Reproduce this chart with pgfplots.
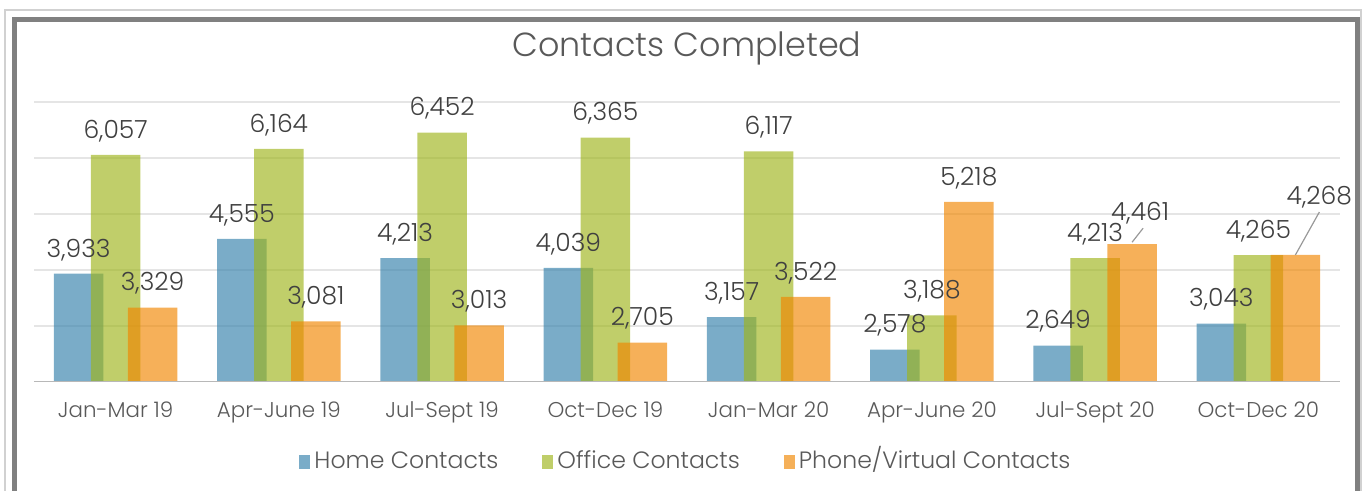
\documentclass[border=0pt]{standalone}
\usepackage{fontspec}
\setmainfont{Poppins}[UprightFont=* Light]
\usepackage{pgfplots}
\usepackage{pgfplotstable}
\pgfplotsset{compat=1.18}

\definecolor{homec}{RGB}{51,128,171}
\definecolor{officec}{RGB}{158,180,26}
\definecolor{phonec}{RGB}{241,134,0}
\definecolor{txt}{RGB}{89,89,89}
\definecolor{lbl}{RGB}{64,64,64}

% x = quarter index, dx/dy = label offset in pt (dx includes the bar shift)
\pgfplotstableread{
x y dx dy
0 3933 -18.5 0
1 4555 -18.5 0
2 4213 -18.5 0
3 4039 -18.5 0
4 3157 -18.5 0
5 2578 -18.5 0
6 2649 -18.5 0
7 3043 -18.5 0
}\home
\pgfplotstableread{
x y dx dy
0 6057 0 0
1 6164 0 0
2 6452 0 0
3 6365 0 0
4 6117 0 0
5 3188 0 0
6 4213 0 0
7 4265 0 0
}\office
\pgfplotstableread{
x y dx dy
0 3329 18.5 0
1 3081 18.5 0
2 3013 18.5 0
3 2705 18.5 0
4 3522 18.5 0
5 5218 18.5 0
6 4461 22.5 3.5
7 4268 30.5 17
}\phone

\begin{document}
\begin{tikzpicture}
\path[use as bounding box] (0,0) rectangle (681.5pt,245.5pt);
% outer frame
\draw[black!18, line width=1pt] (2.5pt,-10pt) rectangle (680.5pt,240.5pt);
\draw[black!50, line width=2.5pt] (7.25pt,-10pt) rectangle (678.75pt,235.75pt);
\begin{axis}[
    at={(17pt,54.5pt)}, anchor=south west,
    scale only axis, width=653pt, height=140pt,
    xmin=-0.5, xmax=7.5, ymin=2000, ymax=7000,
    enlarge x limits=false,
    axis line style={draw=none},
    xtick={0,...,7},
    xticklabels={Jan-Mar 19,Apr-June 19,Jul-Sept 19,Oct-Dec 19,Jan-Mar 20,Apr-June 20,Jul-Sept 20,Oct-Dec 20},
    xticklabel style={font=\fontsize{10.7}{12}\selectfont, text=txt, yshift=-6.5pt},
    xtick style={draw=none},
    ytick={3000,4000,5000,6000,7000},
    yticklabels={},
    ytick style={draw=none},
    ymajorgrids,
    grid style={black!10, line width=0.8pt},
    title={Contacts Completed},
    title style={at={(0.5,1.19)}, anchor=center, yshift=-6pt, font=\fontsize{16.7}{19}\selectfont, text=txt},
    /pgf/number format/assume math mode=true,
    /pgf/number format/1000 sep={,},
    nodes near coords,
    every node near coord/.append style={font=\fontsize{12.5}{14}\selectfont, text=lbl, text opacity=1, anchor=south, yshift=3pt},
    visualization depends on={\thisrow{dx} \as \dx},
    visualization depends on={\thisrow{dy} \as \dy},
    legend columns=3,
    legend style={at={(0.5,-0.292)}, anchor=center, draw=none, font=\fontsize{11.8}{14}\selectfont, text=txt,
        nodes={text depth=0.25em, text height=0.72em},
        /tikz/every even column/.append style={column sep=20pt}},
    legend image code/.code={\fill[#1, fill opacity=0.65] (0pt,-2.5pt) rectangle (5.5pt,4.5pt);},
]
\addplot[ybar, bar width=24.75pt, bar shift=-18.5pt, fill=homec, draw=none, fill opacity=0.65,
    every node near coord/.append style={xshift=\dx pt, yshift=\dy pt}] table[x=x,y=y] {\home};
\addplot[ybar, bar width=24.75pt, bar shift=0pt, fill=officec, draw=none, fill opacity=0.65,
    every node near coord/.append style={xshift=\dx pt, yshift=\dy pt}] table[x=x,y=y] {\office};
\addplot[ybar, bar width=24.75pt, bar shift=18.5pt, fill=phonec, draw=none, fill opacity=0.65,
    every node near coord/.append style={xshift=\dx pt, yshift=\dy pt}] table[x=x,y=y] {\phone};
\legend{Home Contacts,Office Contacts,Phone/Virtual Contacts}
% leader lines for the two moved labels
\draw[black!40, line width=0.6pt] ([xshift=18.5pt,yshift=1pt]axis cs:6,4461) -- ([xshift=24pt,yshift=8pt]axis cs:6,4461);
\draw[black!40, line width=0.6pt] ([xshift=18.5pt]axis cs:7,4268) -- ([xshift=30.5pt,yshift=21.5pt]axis cs:7,4268);
% baseline
\draw[black!28, line width=1.2pt] (rel axis cs:0,0) -- (rel axis cs:1,0);
\end{axis}
\end{tikzpicture}
\end{document}
